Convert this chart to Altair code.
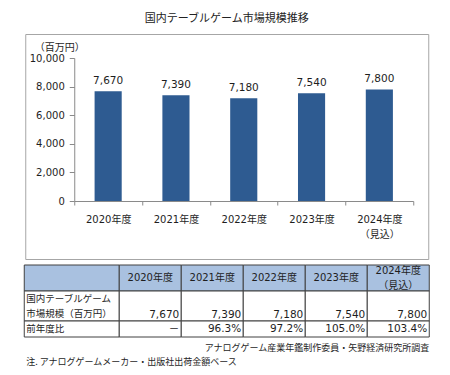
import altair as alt
import pandas as pd

# ---- data ----
years = ["2020年度", "2021年度", "2022年度", "2023年度", "2024年度"]
year_notes = ["", "", "", "", "（見込）"]
market = [7670, 7390, 7180, 7540, 7800]
yoy = [None, 96.3, 97.2, 105.0, 103.4]
y_ticks = [0, 2000, 4000, 6000, 8000, 10000]
chart_title = "国内テーブルゲーム市場規模推移"
unit_label = "（百万円）"
row_labels = ["国内テーブルゲーム\n市場規模（百万円）", "前年度比"]
source_text = "アナログゲーム産業年鑑制作委員・矢野経済研究所調査"
note_text = "注. アナログゲームメーカー・出版社出荷金額ベース"

# ---- styling / layout ----
FONT = "'DejaVu Sans', 'Noto Sans CJK JP', sans-serif"
JP = "'Noto Sans CJK JP', sans-serif"
BAR = "#2e5b91"
HEAD = "#a9c1e0"
GRID = "#404040"
TXT = "#1e1e1e"
AX = "#8a8a8a"
LH = 15  # table line height

W_TOP, H_TOP = 403, 225
col_w = [95, 62, 62, 62, 62, 62]
row_h = [26, 30, 16]
W_TAB, H_TAB = sum(col_w), sum(row_h)

cats = [y + ("\n" + n if n else "") for y, n in zip(years, year_notes)]
bars_df = pd.DataFrame({"cat": cats, "value": market})

x_enc = alt.X(
    "cat:N", sort=cats,
    scale=alt.Scale(domain=cats, range=[49, 388], paddingInner=0, paddingOuter=0),
    axis=alt.Axis(title=None, labelAngle=0, labelExpr="split(datum.label, '\\n')",
                  offset=-58, tickBand="extent", tickSize=4, labelPadding=9,
                  labelLineHeight=15, labelFont=FONT, labelFontSize=10, labelColor=TXT,
                  domainColor=AX, tickColor=AX, grid=False),
)
y_enc = alt.Y(
    "value:Q",
    scale=alt.Scale(domain=[0, 10000], range=[167, 24], nice=False, zero=True),
    axis=alt.Axis(values=y_ticks, format=",d", title=unit_label, titleAngle=0,
                  titleX=-15, titleY=13, titleAlign="center", titleBaseline="middle",
                  titleFont=JP, titleFontSize=10, titleFontWeight="normal", titleColor=TXT,
                  offset=-49, tickSize=5, labelPadding=5, labelFont=FONT,
                  labelFontSize=10, labelColor=TXT, domainColor=AX, tickColor=AX,
                  grid=False),
)

bars = alt.Chart(bars_df).mark_bar(color=BAR, width=alt.RelativeBandSize(0.4)).encode(
    x=x_enc, y=y_enc
)
labels = alt.Chart(bars_df).mark_text(
    baseline="bottom", dy=-5, font=FONT, fontSize=10.5, color=TXT
).encode(x=alt.X("cat:N", sort=cats), y="value:Q", text=alt.Text("value:Q", format=",d"))

top = alt.layer(bars, labels).properties(
    width=W_TOP, height=H_TOP, view=alt.ViewBackground(stroke="#a6a6a6", strokeWidth=1)
)

# ---- table built from the arrays ----
xe = [sum(col_w[:i]) for i in range(len(col_w) + 1)]
ye = [sum(row_h[:i]) for i in range(len(row_h) + 1)]
texts = [
    [""] + cats,
    [row_labels[0]] + [f"{v:,}" for v in market],
    [row_labels[1]] + ["－" if v is None else f"{v:.1f}%" for v in yoy],
]
recs = []
for r in range(3):
    for c in range(6):
        t = texts[r][c]
        yc = (ye[r] + ye[r + 1]) / 2
        recs.append(dict(row=r, col=c, x0=xe[c], x1=xe[c + 1], y0=ye[r], y1=ye[r + 1],
                         xc=(xe[c] + xe[c + 1]) / 2, yc=yc,
                         yt=yc - (t.count("\n")) * LH / 2, text=t))
tab_df = pd.DataFrame(recs)

xs = alt.Scale(domain=[0, W_TAB], nice=False, zero=False)
ys = alt.Scale(domain=[0, H_TAB], nice=False, zero=False, reverse=True)

base = alt.Chart(tab_df)
cells = base.mark_rect(stroke=GRID, strokeWidth=1).encode(
    x=alt.X("x0:Q", scale=xs, axis=None), x2="x1",
    y=alt.Y("y0:Q", scale=ys, axis=None), y2="y1",
    fill=alt.condition("datum.row == 0", alt.value(HEAD), alt.value("#ffffff")),
)
head_txt = base.transform_filter("datum.row == 0").mark_text(
    align="center", baseline="middle", lineBreak="\n", lineHeight=LH,
    font=FONT, fontSize=10, color=TXT
).encode(x=alt.X("xc:Q", scale=xs, axis=None), y=alt.Y("yt:Q", scale=ys, axis=None), text="text:N")
row_txt = base.transform_filter("datum.row > 0 && datum.col == 0").mark_text(
    align="left", baseline="middle", dx=2, lineBreak="\n", lineHeight=LH,
    font=JP, fontSize=9.5, color=TXT
).encode(x=alt.X("x0:Q", scale=xs, axis=None), y=alt.Y("yt:Q", scale=ys, axis=None), text="text:N")
val_txt = base.transform_filter("datum.row == 1 && datum.col > 0").mark_text(
    align="right", baseline="bottom", dx=-2, dy=-1, font=FONT, fontSize=10.5, color=TXT
).encode(x=alt.X("x1:Q", scale=xs, axis=None), y=alt.Y("y1:Q", scale=ys, axis=None), text="text:N")
pct_txt = base.transform_filter("datum.row == 2 && datum.col > 0").mark_text(
    align="right", baseline="middle", dx=-2, font=FONT, fontSize=10.5, color=TXT
).encode(x=alt.X("x1:Q", scale=xs, axis=None), y=alt.Y("yc:Q", scale=ys, axis=None), text="text:N")

notes_df = pd.DataFrame({"text": [source_text, note_text],
                         "x": [W_TAB, 0], "y": [H_TAB + 11, H_TAB + 25]})
src_txt = alt.Chart(notes_df).transform_filter(f"datum.text == '{source_text}'").mark_text(
    align="right", baseline="middle", font=JP, fontSize=9, color=TXT
).encode(x=alt.X("x:Q", scale=xs, axis=None), y=alt.Y("y:Q", scale=ys, axis=None), text="text:N")
note_txt = alt.Chart(notes_df).transform_filter(f"datum.text == '{note_text}'").mark_text(
    align="left", baseline="middle", dx=2, font=JP, fontSize=9, color=TXT
).encode(x=alt.X("x:Q", scale=xs, axis=None), y=alt.Y("y:Q", scale=ys, axis=None), text="text:N")

table = alt.layer(cells, head_txt, row_txt, val_txt, pct_txt, src_txt, note_txt).properties(
    width=W_TAB, height=H_TAB, view=alt.ViewBackground(stroke=None)
)

chart = alt.vconcat(top, table, spacing=4, center=True).properties(
    title=alt.TitleParams(chart_title, font=JP, fontSize=11, fontWeight="normal",
                          color="#222", anchor="middle", offset=10),
    padding={"left": 23, "top": 12, "right": 0, "bottom": 0},
    background="white",
)

chart.save("out.html", embed_options={"renderer": "svg", "actions": False})
